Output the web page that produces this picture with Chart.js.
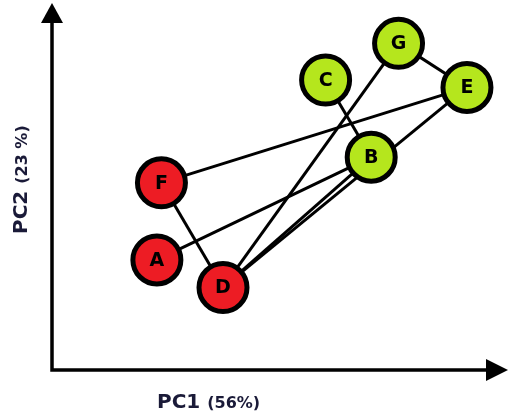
<!DOCTYPE html>
<html lang="en">
<head>
  <meta charset="UTF-8">
  <title>PCA</title>
  <script src="https://cdn.jsdelivr.net/npm/chart.js"></script>
  <style>
    body { margin: 0; background: #fff; }
    #wrap { width: 510px; height: 412px; }
  </style>
</head>
<body>
  <div id="wrap"><canvas id="pcaChart" width="510" height="412"></canvas></div>

  <script>
    // samples and their scores
    var samples = ['A', 'B', 'C', 'D', 'E', 'F', 'G'];
    var pc1 = [23, 70, 60, 37.5, 91, 24, 76];
    var pc2 = [30, 58, 79, 22.5, 77, 51, 89];
    var groups = [1, 2, 2, 1, 2, 1, 2];
    var links = [['F', 'D'], ['A', 'B'], ['F', 'E'], ['D', 'G'], ['D', 'B'], ['D', 'E'], ['C', 'B'], ['G', 'E']];
    var xTitle = ['PC1', '(56%)'];
    var yTitle = ['PC2', '(23 %)'];

    var groupColors = { 1: '#ed1c24', 2: '#b5e61d' };

    function pt(name) {
      var i = samples.indexOf(name);
      return { x: pc1[i], y: pc2[i] };
    }

    var datasets = [];
    datasets.push({
      label: 'samples',
      data: samples.map(function(s) { return pt(s); }),
      backgroundColor: groups.map(function(g) { return groupColors[g]; }),
      borderColor: '#000',
      borderWidth: 5,
      pointRadius: 24,
      pointHoverRadius: 24,
      order: 0
    });
    links.forEach(function(l) {
      datasets.push({
        label: l.join('-'),
        data: [pt(l[0]), pt(l[1])],
        showLine: true,
        borderColor: '#000',
        borderWidth: 3,
        pointRadius: 0,
        order: 1
      });
    });

    var axisPlugin = {
      id: 'axisArrows',
      beforeDatasetsDraw: function(chart) {
        var ctx = chart.ctx;
        var a = chart.chartArea;
        ctx.save();
        ctx.strokeStyle = '#000';
        ctx.fillStyle = '#000';
        ctx.lineWidth = 3.5;
        ctx.beginPath();
        ctx.moveTo(a.left, a.top + 15);
        ctx.lineTo(a.left, a.bottom);
        ctx.lineTo(a.right - 15, a.bottom);
        ctx.stroke();
        // arrow heads
        ctx.beginPath();
        ctx.moveTo(a.left, a.top);
        ctx.lineTo(a.left - 11, a.top + 20);
        ctx.lineTo(a.left + 11, a.top + 20);
        ctx.closePath();
        ctx.fill();
        ctx.beginPath();
        ctx.moveTo(a.right, a.bottom);
        ctx.lineTo(a.right - 22, a.bottom - 11);
        ctx.lineTo(a.right - 22, a.bottom + 11);
        ctx.closePath();
        ctx.fill();
        ctx.restore();
      },
      afterDatasetsDraw: function(chart) {
        var ctx = chart.ctx;
        var a = chart.chartArea;
        var meta = chart.getDatasetMeta(0);
        ctx.save();
        ctx.fillStyle = '#000';
        ctx.font = 'bold 19px "DejaVu Sans"';
        ctx.textAlign = 'center';
        ctx.textBaseline = 'middle';
        meta.data.forEach(function(el, i) {
          ctx.fillText(samples[i], el.x, el.y + 1);
        });

        // axis titles
        ctx.fillStyle = '#1a1a38';
        ctx.textAlign = 'left';
        ctx.textBaseline = 'alphabetic';
        ctx.font = 'bold 20px "DejaVu Sans"';
        var x0 = a.left + 105;
        var yb = a.bottom + 38;
        ctx.fillText(xTitle[0], x0, yb);
        var w = ctx.measureText(xTitle[0] + ' ').width;
        ctx.font = 'bold 16px "DejaVu Sans"';
        ctx.fillText(xTitle[1], x0 + w, yb);

        ctx.translate(27, a.top + 231);
        ctx.rotate(-Math.PI / 2);
        ctx.font = 'bold 20px "DejaVu Sans"';
        ctx.fillText(yTitle[0], 0, 0);
        w = ctx.measureText(yTitle[0] + ' ').width;
        ctx.font = 'bold 16px "DejaVu Sans"';
        ctx.fillText(yTitle[1], w, 0);
        ctx.restore();
      }
    };

    var chart = new Chart(document.getElementById('pcaChart').getContext('2d'), {
      type: 'scatter',
      data: { datasets: datasets },
      options: {
        responsive: false,
        animation: false,
        layout: { autoPadding: false, padding: { left: 52, right: 2, top: 3, bottom: 42 } },
        plugins: { legend: { display: false }, tooltip: { enabled: false } },
        scales: {
          x: { display: false, min: 0, max: 100 },
          y: { display: false, min: 0, max: 100 }
        }
      },
      plugins: [axisPlugin]
    });
  </script>
</body>
</html>
